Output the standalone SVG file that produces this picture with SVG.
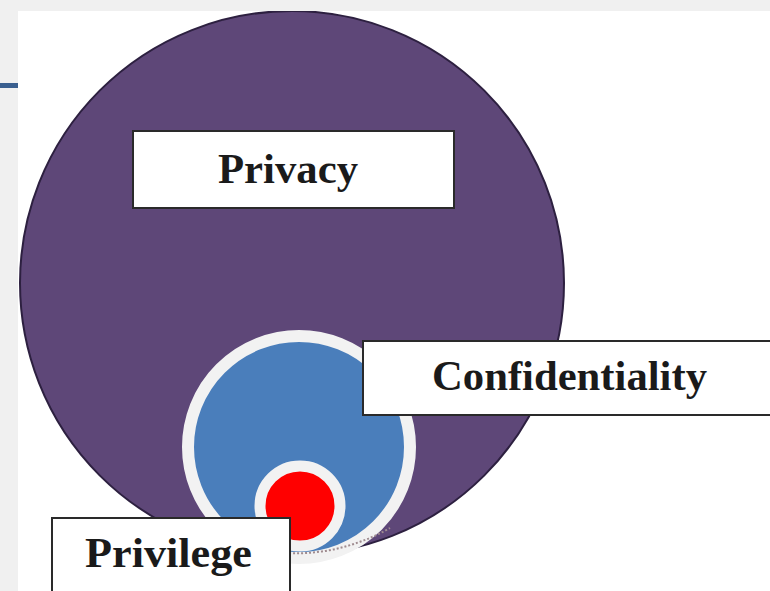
<svg xmlns="http://www.w3.org/2000/svg" width="770" height="591" viewBox="0 0 770 591">
<style>
.box{fill:#ffffff;stroke:#2a2a2a;stroke-width:2}
.lbl{font-family:"Liberation Serif","Times New Roman",serif;font-weight:bold;font-size:43px;fill:#1a1a1a}
</style>
<defs>
<clipPath id="page"><rect x="18" y="11" width="752" height="580"/></clipPath>
</defs>
<rect x="0" y="0" width="770" height="591" fill="#f0f0f0"/>
<rect x="18" y="11" width="752" height="580" fill="#ffffff"/>
<rect x="0" y="83" width="18" height="5" fill="#3a5f8f"/>
<g clip-path="url(#page)">
<g id="privacy-circle">
<circle cx="292" cy="283" r="272" fill="#5e4778" stroke="#2d2040" stroke-width="2"/>
</g>
<g id="confidentiality-circle">
<circle cx="299" cy="447" r="111" fill="#4a7ebb" stroke="#f2f2f2" stroke-width="12"/>
</g>
<g id="privilege-circle">
<circle cx="300" cy="506" r="40" fill="#ff0000" stroke="#f2f2f2" stroke-width="11"/>
</g>
<g id="shadow">
<path d="M285 553 Q340 556 390 528" fill="none" stroke="#a08c90" stroke-width="2" stroke-dasharray="2 2"/>
</g>
<g id="privacy">
<rect class="box" x="133" y="131" width="321" height="77"/>
<text class="lbl" x="218" y="183" textLength="140" lengthAdjust="spacingAndGlyphs">Privacy</text>
</g>
<g id="confidentiality">
<rect class="box" x="363" y="341" width="420" height="74"/>
<text class="lbl" x="432" y="390" textLength="275" lengthAdjust="spacingAndGlyphs">Confidentiality</text>
</g>
<g id="privilege">
<rect class="box" x="52" y="518" width="238" height="90"/>
<text class="lbl" x="85" y="567" textLength="167" lengthAdjust="spacingAndGlyphs">Privilege</text>
</g>
</g>
</svg>
